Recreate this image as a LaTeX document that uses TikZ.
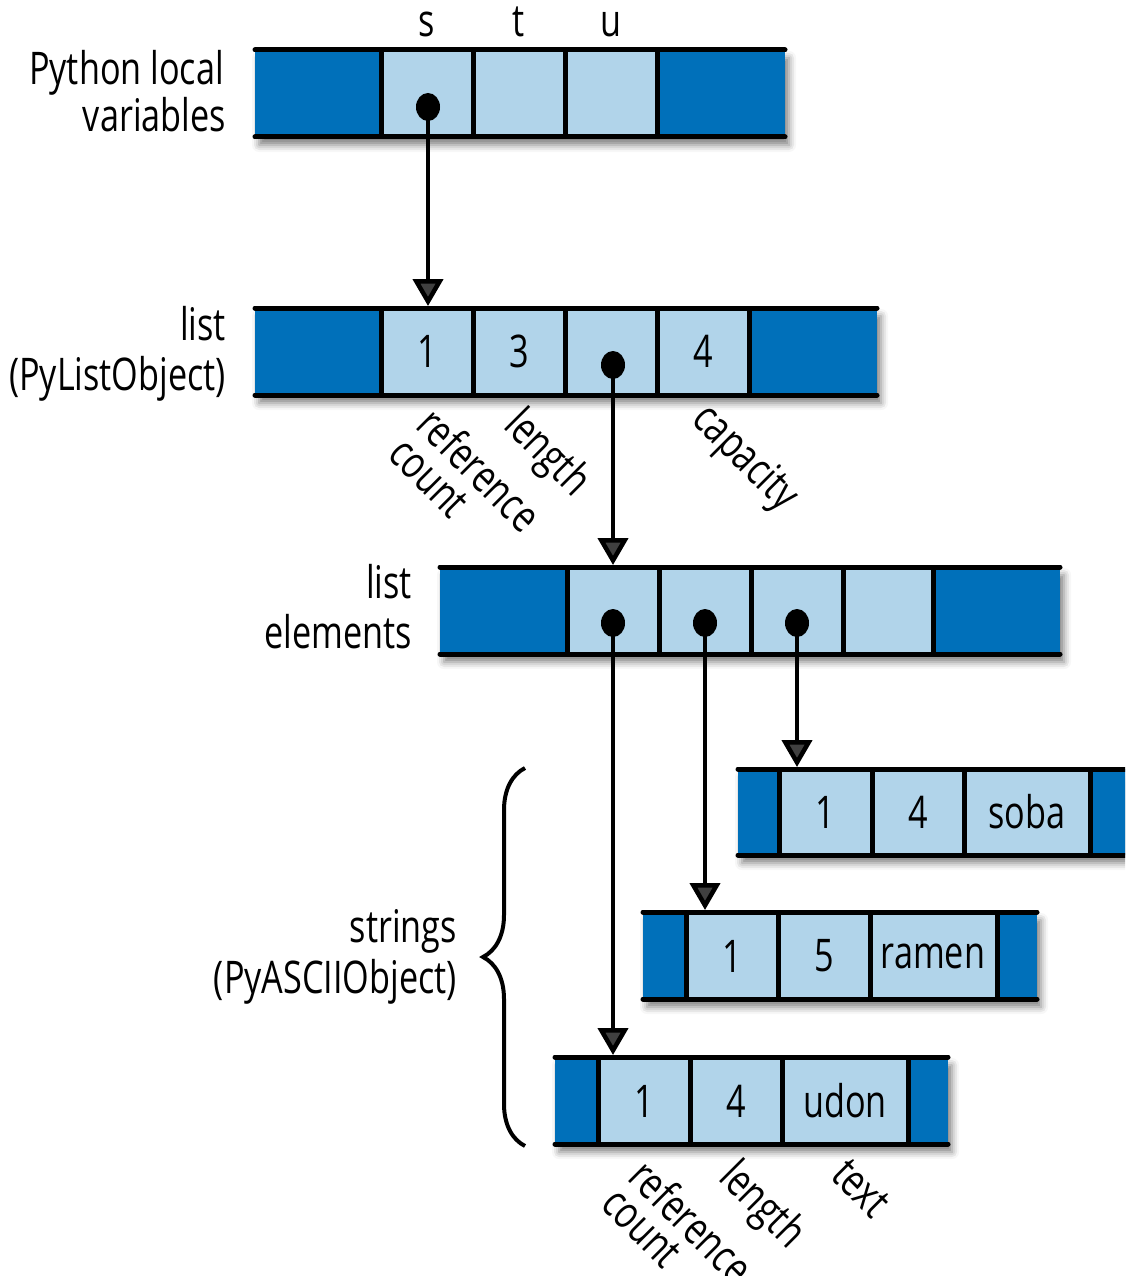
\documentclass[tikz,border=0pt]{standalone}
\usepackage{fontspec}
\setmainfont{Open Sans}[FakeStretch=0.76]
\usetikzlibrary{arrows.meta,shadows.blur,shapes.geometric,decorations.pathreplacing}
\definecolor{dk}{RGB}{0,112,186}
\definecolor{lt}{RGB}{177,212,234}
\begin{document}
\begin{tikzpicture}[x=1pt,y=-1pt,
  txt/.style={font=\fontsize{45}{50}\selectfont, inner sep=0pt},
  lbl/.style={txt, anchor=base east},
  rot/.style={txt, rotate=-45, anchor=base west},
  hline/.style={line width=5pt, line cap=round},
  sepline/.style={line width=5pt},
  arr/.style={line width=4.5pt, -{Triangle[width=30pt,length=27pt]}},
  dot/.style={ellipse, fill=black, minimum width=24pt, minimum height=28pt, inner sep=0pt},
  shade/.style={blur shadow={shadow xshift=4pt, shadow yshift=-8pt, shadow blur radius=7pt, shadow opacity=50}},
  brace/.style={line width=4pt, decorate, decoration={brace, amplitude=42pt, aspect=0.5}}]
\useasboundingbox (0,0) rectangle (1125,1276);
\clip (0,0) rectangle (1125,1276);

% ---------- Python local variables ----------
\fill[dk,shade] (255,50) rectangle (785,137);
\fill[lt] (381,50) rectangle (657,137);
\foreach \x in {381,473,565,657} \draw[sepline] (\x,50) -- (\x,137);
\draw[hline] (255,50) -- (785,50);
\draw[hline] (255,137) -- (785,137);
\node[txt,anchor=base] (vs) at (427,37) {s};
\node[txt,anchor=base] (vt) at (519,37) {t};
\node[txt,anchor=base] (vu) at (611,37) {u};
\node[lbl] (pl1) at (224,85) {Python local};
\node[lbl] (pl2) at (226,132) {variables};
\node[dot] (ds) at (428,107) {};

% ---------- list (PyListObject) ----------
\fill[dk,shade] (255,308) rectangle (877,395);
\fill[lt] (381,308) rectangle (749,395);
\foreach \x in {381,473,565,657,749} \draw[sepline] (\x,308) -- (\x,395);
\draw[hline] (255,308) -- (877,308);
\draw[hline] (255,395) -- (877,395);
\coordinate (listin) at (428,306);
\node[txt] (lrc) at (427,351) {1};
\node[txt] (llen) at (519,351) {3};
\node[dot] (lptr) at (613,365) {};
\node[txt] (lcap) at (703,351) {4};
\node[lbl] (ll1) at (226,340) {list};
\node[lbl] (ll2) at (226,390) {(PyListObject)};
\node[rot] (lr1) at (414,427) {reference};
\node[rot] (lr2) at (386,456) {count};
\node[rot] (lr3) at (502,427) {length};
\node[rot] (lr4) at (690,421) {capacity};

% ---------- list elements ----------
\fill[dk,shade] (440,567) rectangle (1060,654);
\fill[lt] (567,567) rectangle (933,654);
\foreach \x in {567,659,751,843,933} \draw[sepline] (\x,567) -- (\x,654);
\draw[hline] (440,567) -- (1060,567);
\draw[hline] (440,654) -- (1060,654);
\coordinate (elin) at (613,565);
\node[dot] (e1) at (613,623) {};
\node[dot] (e2) at (705,623) {};
\node[dot] (e3) at (797,623) {};
\node[lbl] (el1) at (412,598) {list};
\node[lbl] (el2) at (412,648) {elements};

% ---------- soba ----------
\fill[dk,shade] (738,769) rectangle (1140,855);
\fill[lt] (779,769) rectangle (1090,855);
\foreach \x in {779,872,964,1090} \draw[sepline] (\x,769) -- (\x,855);
\draw[hline] (738,769) -- (1140,769);
\draw[hline] (738,855) -- (1140,855);
\coordinate (sobain) at (797,767);
\node[txt] (s1) at (825,812) {1};
\node[txt] (s2) at (918,812) {4};
\node[txt] (s3) at (1027,812) {soba};

% ---------- ramen ----------
\fill[dk,shade] (643,912) rectangle (1037,999);
\fill[lt] (686,912) rectangle (997,999);
\foreach \x in {686,778,870,997} \draw[sepline] (\x,912) -- (\x,999);
\draw[hline] (643,912) -- (1037,912);
\draw[hline] (643,999) -- (1037,999);
\coordinate (ramenin) at (705,910);
\node[txt] (r1) at (732,956) {1};
\node[txt] (r2) at (824,956) {5};
\node[txt] (r3) at (933,956) {ramen};

% ---------- udon ----------
\fill[dk,shade] (555,1057) rectangle (948,1144);
\fill[lt] (598,1057) rectangle (908,1144);
\foreach \x in {598,690,782,908} \draw[sepline] (\x,1057) -- (\x,1144);
\draw[hline] (555,1057) -- (948,1057);
\draw[hline] (555,1144) -- (948,1144);
\coordinate (udonin) at (613,1055);
\node[txt] (u1) at (644,1101) {1};
\node[txt] (u2) at (736,1101) {4};
\node[txt] (u3) at (845,1101) {udon};
\node[rot] (ur1) at (626,1179) {reference};
\node[rot] (ur2) at (599,1206) {count};
\node[rot] (ur3) at (717,1179) {length};
\node[rot] (ur4) at (829,1177) {text};

% ---------- strings brace ----------
\coordinate (bb) at (525,1146);
\coordinate (bt) at (525,768);
\draw[brace] (bb) -- (bt);
\node[lbl] (st1) at (457,942) {strings};
\node[lbl] (st2) at (457,993) {(PyASCIIObject)};

% ---------- arrows ----------
\draw[arr] (ds.center) -- (listin);
\draw[arr] (lptr.center) -- (elin);
\draw[arr] (e3.center) -- (sobain);
\draw[arr] (e2.center) -- (ramenin);
\draw[arr] (e1.center) -- (udonin);
\end{tikzpicture}
\end{document}
